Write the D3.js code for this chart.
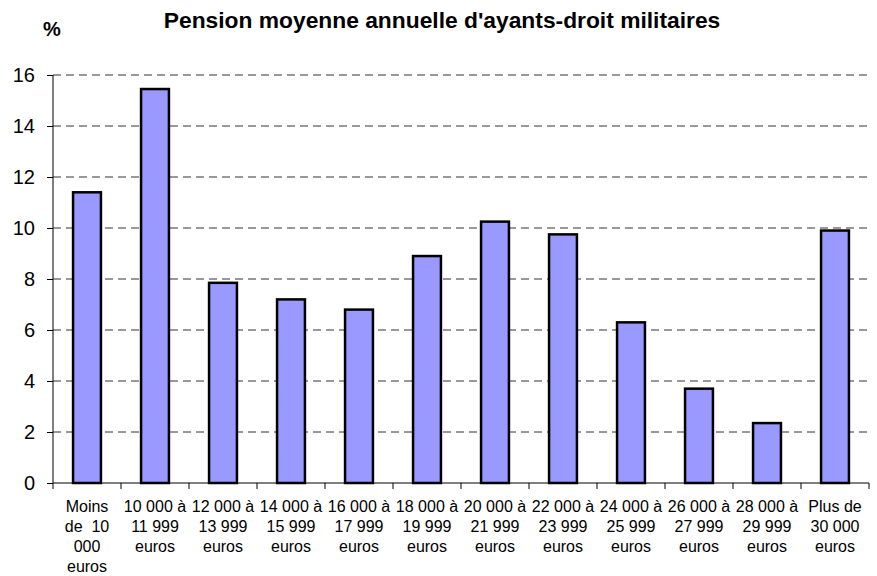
<!DOCTYPE html>
<html><head><meta charset="utf-8">
<script src="https://cdn.jsdelivr.net/npm/d3@7"></script>
<style>body{margin:0;background:#fff}svg{display:block}</style>
</head><body>
<svg id="c" width="877" height="576"></svg>
<script>
const categories = [
  ["Moins","de  10","000","euros"],
  ["10 000 à","11 999","euros"],
  ["12 000 à","13 999","euros"],
  ["14 000 à","15 999","euros"],
  ["16 000 à","17 999","euros"],
  ["18 000 à","19 999","euros"],
  ["20 000 à","21 999","euros"],
  ["22 000 à","23 999","euros"],
  ["24 000 à","25 999","euros"],
  ["26 000 à","27 999","euros"],
  ["28 000 à","29 999","euros"],
  ["Plus de","30 000","euros"]
];
const values = [11.4, 15.45, 7.85, 7.2, 6.8, 8.9, 10.25, 9.75, 6.3, 3.7, 2.35, 9.9];
const yTicks = [0, 2, 4, 6, 8, 10, 12, 14, 16];
const title = "Pension moyenne annuelle d'ayants-droit militaires";

const FONT = "Arial, 'Liberation Sans', sans-serif";
const svg = d3.select("#c");
const L = 53, R = 869, T = 75, B = 483;
const ids = categories.map((d, i) => i);
const x = d3.scaleBand().domain(ids).range([L, R]).paddingInner(0.59).paddingOuter(0.295);
const xb = d3.scaleBand().domain(ids).range([L, R]);
const y = d3.scaleLinear().domain([0, 16]).range([B, T]);

// gridlines
svg.append("g").selectAll("line").data(yTicks.filter(t => t > 0)).join("line")
  .attr("x1", L).attr("x2", R).attr("y1", d => y(d)).attr("y2", d => y(d))
  .attr("stroke", "#333").attr("stroke-width", 1).attr("stroke-dasharray", "8,5");

// bars
svg.append("g").selectAll("rect").data(values).join("rect")
  .attr("x", (d, i) => x(i)).attr("width", x.bandwidth())
  .attr("y", d => y(d)).attr("height", d => B - y(d))
  .attr("fill", "#9999FF").attr("stroke", "#000").attr("stroke-width", 2.5);

// y axis
const ya = svg.append("g").attr("transform", `translate(${L},0)`)
  .call(d3.axisLeft(y).tickValues(yTicks).tickSize(6).tickPadding(12).tickFormat(d3.format("d")));
ya.select(".domain").attr("stroke", "#000").attr("d", `M0,${T}V${B}`);
ya.selectAll(".tick line").attr("stroke", "#000");
ya.selectAll("text").attr("font-family", FONT).attr("font-size", 20).attr("fill", "#000");

// x axis
const xa = svg.append("g").attr("transform", `translate(0,${B})`);
xa.append("line").attr("x1", L).attr("x2", R).attr("y1", 0).attr("y2", 0).attr("stroke", "#000");
xa.selectAll("line.t").data(d3.range(categories.length + 1)).join("line").attr("class", "t")
  .attr("x1", i => L + i * xb.bandwidth()).attr("x2", i => L + i * xb.bandwidth())
  .attr("y1", 0).attr("y2", 6).attr("stroke", "#000");
const lab = xa.selectAll("text").data(categories).join("text")
  .attr("text-anchor", "middle")
  .attr("font-family", FONT).attr("font-size", 16).attr("fill", "#000")
  .attr("transform", (d, i) => `translate(${xb(i) + xb.bandwidth() / 2},0)`);
lab.selectAll("tspan").data(d => d).join("tspan")
  .attr("x", 0).attr("y", (d, j) => 29 + j * 20).attr("xml:space", "preserve").style("white-space", "pre").text(d => d);

// title
svg.append("text").attr("x", 442).attr("y", 28).attr("text-anchor", "middle")
  .attr("font-family", FONT).attr("font-weight", "bold").attr("font-size", 22.8)
  .text(title);
svg.append("text").attr("x", 52).attr("y", 36).attr("text-anchor", "middle")
  .attr("font-family", FONT).attr("font-weight", "bold").attr("font-size", 20)
  .text("%");
</script>
</body></html>
